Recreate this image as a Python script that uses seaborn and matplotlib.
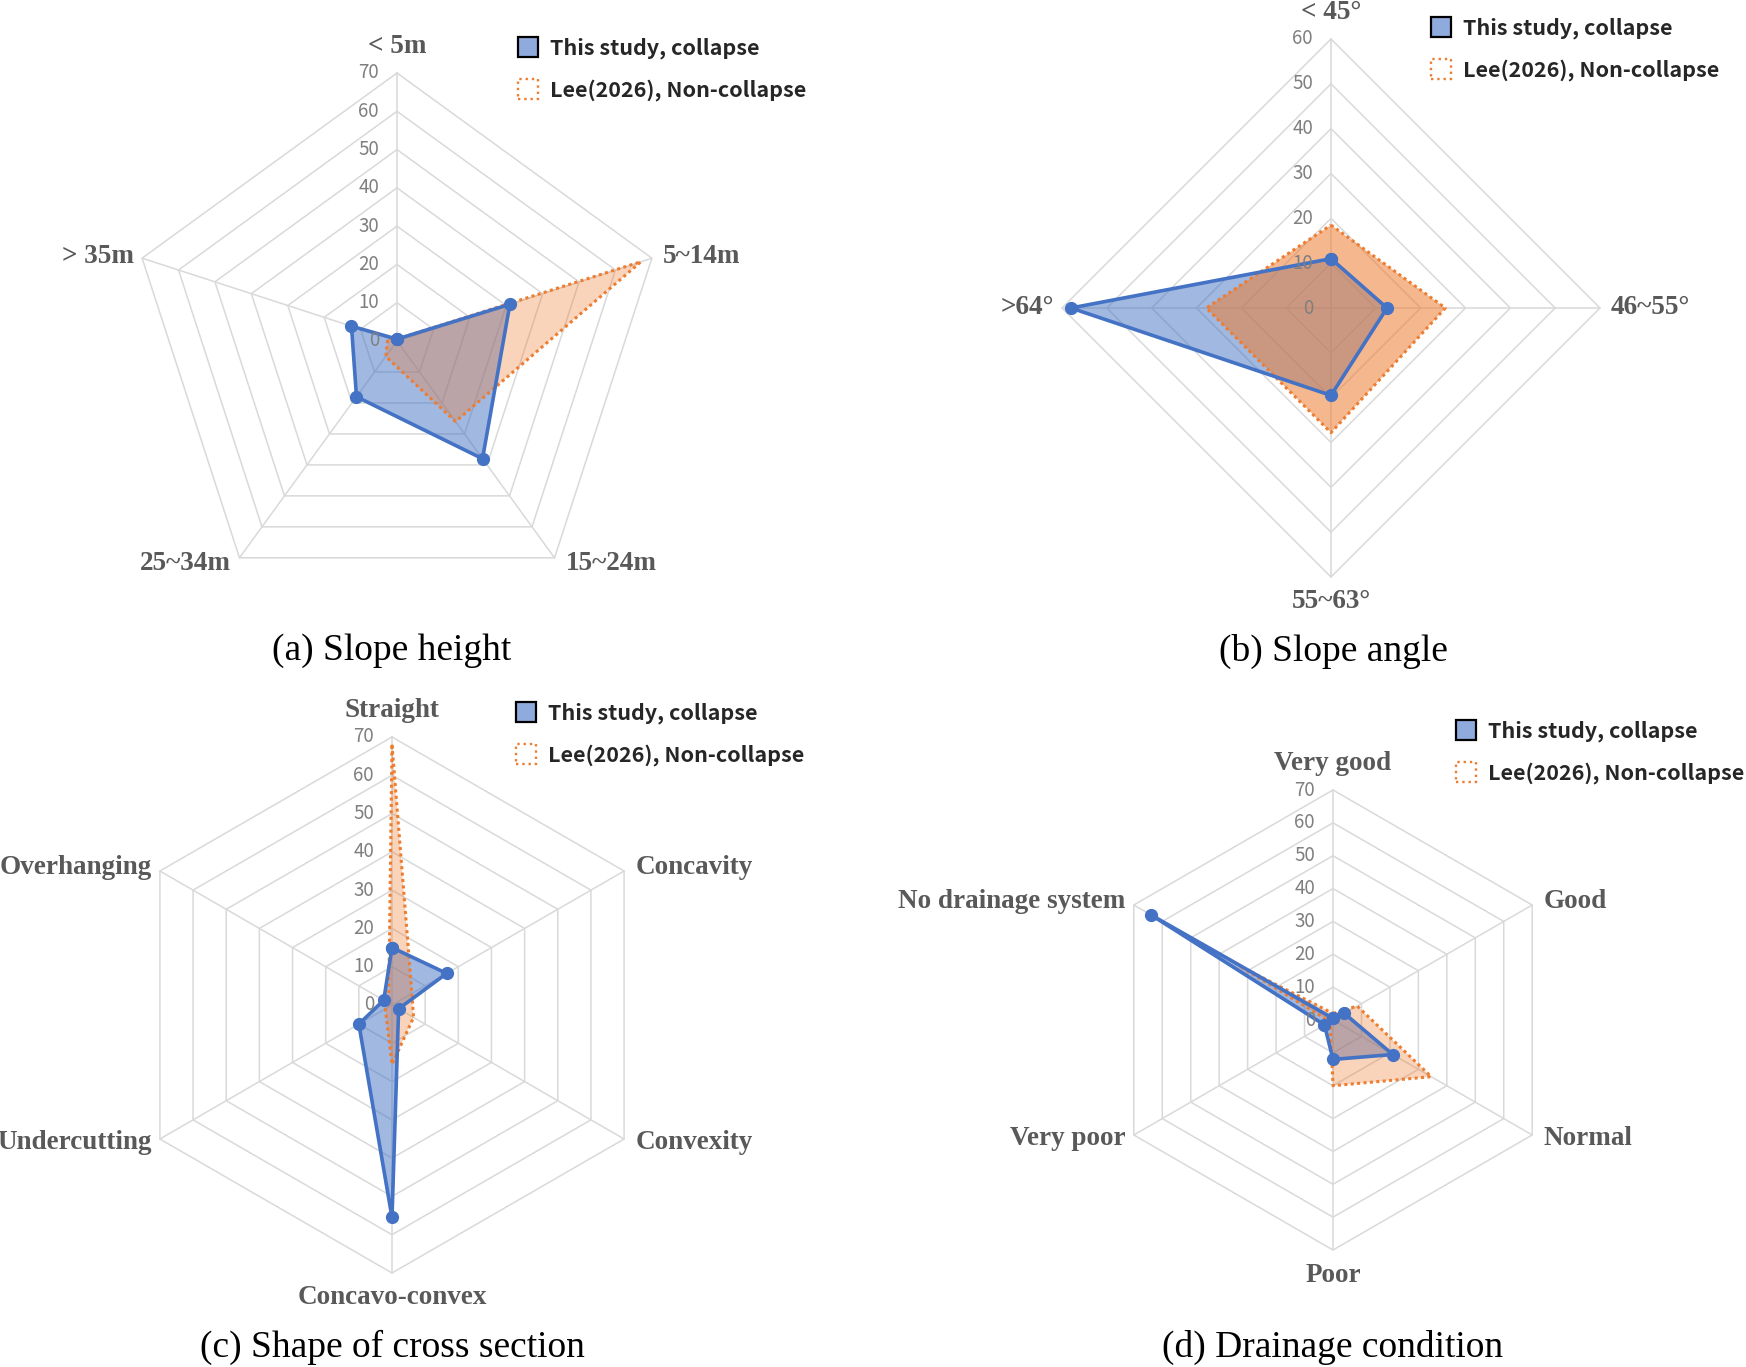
import numpy as np
import matplotlib
matplotlib.use('Agg')
import matplotlib.pyplot as plt
import seaborn as sns
from matplotlib.patches import Patch

# ---------------- data ----------------
a_cats = ['< 5m', '5~14m', '15~24m', '25~34m', '> 35m']
a_collapse = [0.5, 31, 38, 18, 12.5]
a_noncollapse = [0.5, 67, 26, 5, 2.5]

b_cats = ['< 45°', '46~55°', '55~63°', '>64°']
b_collapse = [11, 12.5, 19.5, 58]
b_noncollapse = [18.5, 25.5, 27.8, 27.8]

c_cats = ['Straight', 'Concavity', 'Convexity', 'Concavo-convex', 'Undercutting', 'Overhanging']
c_collapse = [15, 16.5, 2, 55.5, 10, 2.5]
c_noncollapse = [68, 6, 6.5, 15.5, 2, 1]

d_cats = ['Very good', 'Good', 'Normal', 'Poor', 'Very poor', 'No drainage system']
d_collapse = [0.5, 4, 21, 12, 3, 64]
d_noncollapse = [2, 8.5, 34.5, 20, 1, 33]

titles = ['(a) Slope height', '(b) Slope angle', '(c) Shape of cross section', '(d) Drainage condition']
series_labels = ['This study, collapse', 'Lee(2026), Non-collapse']
rmaxes = [70, 60, 70, 70]

# ---------------- style ----------------
sns.set_theme(style='white')
plt.rcParams['font.family'] = ['DejaVu Sans']

W, H = 1746, 1367
fig = plt.figure(figsize=(W / 100, H / 100), dpi=100)
fig.patch.set_facecolor('white')

BLUE = '#4472C4'
ORANGE = '#ED7D31'
GRID = '#D9D9D9'
LABEL_C = '#595959'
TICK_C = '#7F7F7F'

layout = [
    dict(center=(397, 341), R=268, alpha_o=0.33, title_xy=(392, 651), legend_xy=(518, 37)),
    dict(center=(1331, 308), R=269, alpha_o=0.55, title_xy=(1333, 651), legend_xy=(1431, 17)),
    dict(center=(392, 1005), R=268, alpha_o=0.33, title_xy=(392, 1347), legend_xy=(516, 702)),
    dict(center=(1333, 1020), R=230, alpha_o=0.33, title_xy=(1333, 1347), legend_xy=(1456, 720)),
]
datasets = [
    (a_cats, a_collapse, a_noncollapse),
    (b_cats, b_collapse, b_noncollapse),
    (c_cats, c_collapse, c_noncollapse),
    (d_cats, d_collapse, d_noncollapse),
]

for (cats, blue, orange), lay, rmax, title in zip(datasets, layout, rmaxes, titles):
    cx, cy = lay['center']
    R = lay['R']
    ax = fig.add_axes([(cx - R) / W, 1 - (cy + R) / H, 2 * R / W, 2 * R / H], projection='polar')
    ax.set_theta_zero_location('N')
    ax.set_theta_direction(-1)
    n = len(cats)
    theta = np.arange(n) * 2 * np.pi / n
    tc = np.append(theta, theta[0])
    ticks = np.arange(0, rmax + 1, 10)

    for v in ticks[1:]:
        ax.plot(tc, [v] * (n + 1), color=GRID, lw=1.1, zorder=1, clip_on=False)
    for t in theta:
        ax.plot([t, t], [0, rmax], color=GRID, lw=1.1, zorder=1, clip_on=False)

    ax.set_ylim(0, rmax)
    ax.grid(False)
    ax.set_xticks([])
    ax.set_yticks([])
    ax.spines['polar'].set_visible(False)
    ax.patch.set_alpha(0)

    bc = np.append(blue, blue[0])
    oc = np.append(orange, orange[0])
    ax.fill(tc, bc, color=BLUE, alpha=0.5, lw=0, zorder=2)
    ax.fill(tc, oc, color=ORANGE, alpha=lay['alpha_o'], lw=0, zorder=3)
    ax.plot(tc, oc, color=ORANGE, ls=(0, (1, 1.1)), lw=2.2, zorder=4, clip_on=False)
    ax.plot(tc, bc, color=BLUE, lw=2.6, marker='o', ms=8.5, zorder=5, clip_on=False)

    for v in ticks:
        ax.annotate(str(v), xy=(0, v), xytext=(-13, 0), textcoords='offset points',
                    ha='right', va='center', fontsize=13.5, color=TICK_C,
                    family=['Noto Sans CJK KR', 'DejaVu Sans'], zorder=6)

    for t, lab in zip(theta, cats):
        s, c = np.sin(t), np.cos(t)
        if abs(s) < 0.1:
            ha = 'center'
            dx = 0
            dy = 19 if c > 0 else -18
        else:
            ha = 'left' if s > 0 else 'right'
            dx = 8 if s > 0 else -6
            dy = 5 * c
        ax.annotate(lab, xy=(t, rmax), xytext=(dx, dy), textcoords='offset points',
                    ha=ha, va='center', fontsize=19.5, fontweight='bold', color=LABEL_C,
                    family=['Liberation Serif', 'DejaVu Serif'], annotation_clip=False)

    tx, ty = lay['title_xy']
    fig.text(tx / W, 1 - ty / H, title, ha='center', va='center', fontsize=27,
             family=['Liberation Serif', 'DejaVu Serif'], color='black')

    handles = [Patch(facecolor='#8FAADC', edgecolor='black', lw=1.6),
               Patch(facecolor='white', edgecolor=ORANGE, ls=':', lw=1.7)]
    lx, ly = lay['legend_xy']
    fig.legend(handles, series_labels, loc='upper left', bbox_to_anchor=(lx / W, 1 - ly / H),
               frameon=False, prop=dict(family=['Noto Sans CJK KR', 'DejaVu Sans'], weight='bold', size=15.5),
               handlelength=0.95, handleheight=1.05, handletextpad=0.55, labelspacing=0.95,
               borderpad=0, borderaxespad=0)

fig.savefig('out.png', dpi=100, facecolor='white')
